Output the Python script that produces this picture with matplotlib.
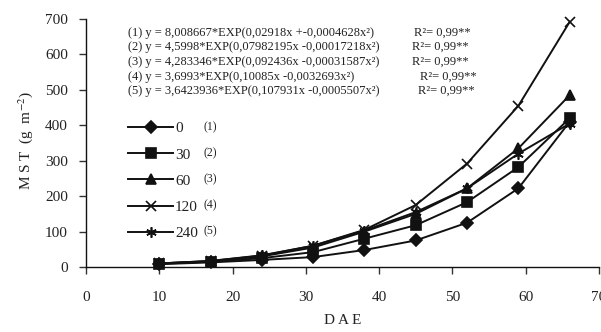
import numpy as np
import matplotlib
matplotlib.use("Agg")
import matplotlib.pyplot as plt

plt.rcParams['font.family'] = ['Liberation Serif', 'DejaVu Serif']
plt.rcParams['mathtext.fontset'] = 'stix'

dae = [10, 17, 24, 31, 38, 45, 52, 59, 66]
mst_0 = [8, 13, 20, 28, 48, 75, 125, 222, 410]
mst_30 = [9, 15, 25, 42, 80, 118, 183, 282, 420]
mst_60 = [10, 16, 30, 55, 100, 150, 222, 335, 485]
mst_120 = [10, 17, 32, 60, 105, 175, 292, 455, 692]
mst_240 = [10, 17, 33, 60, 103, 155, 222, 320, 405]

doses = ["0", "30", "60", "120", "240"]
equations = [
    "(1) y = 8,008667*EXP(0,02918x +-0,0004628x²)",
    "(2) y = 4,5998*EXP(0,07982195x -0,00017218x²)",
    "(3) y = 4,283346*EXP(0,092436x -0,00031587x²)",
    "(4) y = 3,6993*EXP(0,10085x -0,0032693x²)",
    "(5) y = 3,6423936*EXP(0,107931x -0,0005507x²)",
]
r2 = ["R²= 0,99**"] * 5

W, H = 601, 332
fig = plt.figure(figsize=(W / 100, H / 100), dpi=100)
ax = fig.add_axes([86 / W, 1 - 267 / H, (599 - 86) / W, (267 - 19) / H])

col = "#111111"
series = [mst_0, mst_30, mst_60, mst_120, mst_240]
markers = ["D", "s", "^", "x", (6, 2, 0)]
msizes = [6.5, 7.5, 7.5, 7.5, 7.5]
lines = []
for vals, m, ms, lab in zip(series, markers, msizes, doses):
    ln, = ax.plot(dae, vals, color=col, lw=1.4, marker=m, ms=ms,
                  mew=1.2, label=lab, clip_on=False)
    lines.append(ln)

ax.set_xlim(0, 70)
ax.set_ylim(0, 700)
ax.set_xticks(range(0, 71, 10))
ax.set_yticks(range(0, 701, 100))
for s in ["top", "right"]:
    ax.spines[s].set_visible(False)
for s in ["left", "bottom"]:
    ax.spines[s].set_linewidth(1.0)
    ax.spines[s].set_color(col)
ax.tick_params(direction="out", length=5, width=1, colors="#333333",
               labelsize=11, labelcolor="#222222")
ax.tick_params(axis="x", pad=12)
ax.tick_params(axis="y", pad=8)

ax.set_xlabel("D A E", fontsize=11, color="#222222")
ax.xaxis.set_label_coords(0.5, -0.19)
ax.set_ylabel("M S T  (g  m$^{-2}$)", fontsize=11, color="#222222")
ax.yaxis.set_label_coords(-0.10, 0.51)

leg = ax.legend(handles=lines, loc="upper left",
                bbox_to_anchor=(120 / W, 1 - 114 / H), bbox_transform=fig.transFigure,
                frameon=False, fontsize=11, handlelength=3.0,
                handletextpad=0.1, labelspacing=0.82, borderpad=0)
for t in leg.get_texts():
    t.set_color("#222222")

legend_rows = [127, 153, 179, 205, 231]
for i, y in enumerate(legend_rows):
    fig.text(203 / W, 1 - y / H, "(%d)" % (i + 1), fontsize=8.5,
             va="center", ha="left", color="#222222")

eq_rows = [33, 47, 62, 77, 91]
r2_x = [414, 412, 412, 420, 418]
for eq, r, y, rx in zip(equations, r2, eq_rows, r2_x):
    fig.text(128 / W, 1 - y / H, eq, fontsize=9.0, va="center", ha="left",
             color="#222222")
    fig.text(rx / W, 1 - y / H, r, fontsize=9.0, va="center", ha="left",
             color="#222222")

fig.savefig("out.png", dpi=100)
